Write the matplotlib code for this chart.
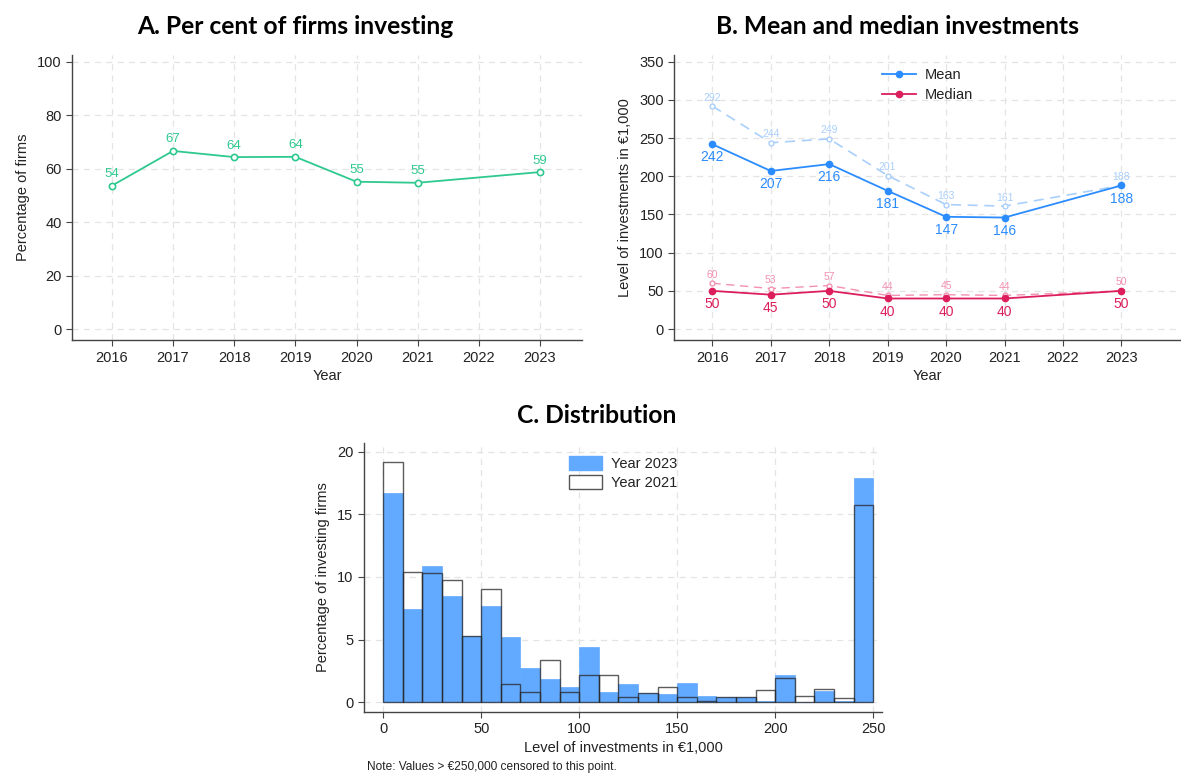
import matplotlib
matplotlib.use("Agg")
import matplotlib.pyplot as plt
from matplotlib.patches import Patch
from matplotlib.lines import Line2D

# ---------------- data ----------------
years_a = [2016, 2017, 2018, 2019, 2020, 2021, 2023]
pct_investing = [53.7, 66.7, 64.4, 64.5, 55.2, 54.8, 58.8]
pct_labels = ["54", "67", "64", "64", "55", "55", "59"]

years_b = [2016, 2017, 2018, 2019, 2020, 2021, 2023]
mean_solid = [242, 207, 216, 181, 147, 146, 188]
mean_dashed = [292, 244, 249, 201, 163, 161, 188]
median_solid = [50, 45, 50, 40, 40, 40, 50]
median_dashed = [60, 53, 57, 44, 45, 44, 50]

year_ticks = [2016, 2017, 2018, 2019, 2020, 2021, 2022, 2023]

bin_starts = [0, 10, 20, 30, 40, 50, 60, 70, 80, 90, 100, 110, 120,
              130, 140, 150, 160, 170, 180, 190, 200, 210, 220, 230, 240]
hist_2023 = [16.73, 7.45, 10.85, 8.48, 5.29, 7.71, 5.24, 2.71, 1.86, 1.20,
             4.39, 0.85, 1.46, 0.72, 0.64, 1.54, 0.48, 0.43, 0.43, 0.10,
             2.18, 0.00, 0.93, 0.10, 17.87]
hist_2021 = [19.15, 10.40, 10.30, 9.76, 5.29, 9.07, 1.44, 0.80, 3.35, 0.80,
             2.15, 2.18, 0.40, 0.72, 1.22, 0.45, 0.13, 0.43, 0.43, 0.98,
             1.97, 0.53, 1.09, 0.32, 15.74]
bin_width = 10

# ---------------- style ----------------
plt.rcParams['font.family'] = ['Liberation Sans', 'DejaVu Sans']
TITLE_FONT = ['Lato', 'DejaVu Sans']
GREEN = '#2ec98f'
BLUE = '#2b8cff'
LBLUE = '#a9cffb'
RED = '#dc1f5c'
LRED = '#f291b0'
HBLUE = '#62aaff'
TXT = '#222222'
GRID = '#e4e4e4'
TICK_FS = 10.5
LAB_FS = 10.5

fig = plt.figure(figsize=(11.81, 7.73), dpi=100)


def style_axes(ax):
    for s in ['top', 'right']:
        ax.spines[s].set_visible(False)
    for s in ['left', 'bottom']:
        ax.spines[s].set_color('#444444')
        ax.spines[s].set_linewidth(1.0)
    ax.tick_params(axis='both', colors='#444444', labelcolor=TXT,
                   labelsize=TICK_FS, length=4, width=0.8, direction='out')
    ax.grid(True, color=GRID, linestyle=(0, (5, 4)), linewidth=0.9)
    ax.set_axisbelow(True)


# ---------------- Panel A ----------------
axA = fig.add_axes([0.061, 0.560, 0.432, 0.369])
style_axes(axA)
axA.plot(years_a, pct_investing, color=GREEN, lw=1.3, marker='o', ms=4.5,
         mfc='white', mec=GREEN, mew=1.2, zorder=3)
for x, y, t in zip(years_a, pct_investing, pct_labels):
    axA.annotate(t, (x, y), xytext=(0, 4), textcoords='offset points',
                 ha='center', va='bottom', color=GREEN, fontsize=9.5)
axA.set_xlim(2015.35, 2023.69)
axA.set_ylim(-4, 102.6)
axA.set_xticks(year_ticks)
axA.set_yticks([0, 20, 40, 60, 80, 100])
axA.set_xlabel('Year', fontsize=LAB_FS, color=TXT, labelpad=3)
axA.set_ylabel('Percentage of firms', fontsize=LAB_FS, color=TXT, labelpad=5)
fig.text(0.25, 0.966, 'A. Per cent of firms investing', ha='center', va='center',
         fontsize=17.7, fontweight='bold', family=TITLE_FONT, color='black')

# ---------------- Panel B ----------------
axB = fig.add_axes([0.571, 0.560, 0.428, 0.369])
style_axes(axB)
axB.plot(years_b, mean_dashed, color=LBLUE, lw=1.2, ls=(0, (6, 4)), marker='o',
         ms=3.5, mfc='white', mec=LBLUE, mew=1.0, zorder=2)
axB.plot(years_b, median_dashed, color=LRED, lw=1.0, ls=(0, (6, 4)), marker='o',
         ms=3.5, mfc='white', mec=LRED, mew=1.0, zorder=2)
axB.plot(years_b, mean_solid, color=BLUE, lw=1.3, marker='o', ms=4.5,
         mfc=BLUE, mec=BLUE, zorder=3)
axB.plot(years_b, median_solid, color=RED, lw=1.3, marker='o', ms=4.5,
         mfc=RED, mec=RED, zorder=3)
for x, y in zip(years_b, mean_dashed):
    axB.annotate(str(y), (x, y), xytext=(0, 2.5), textcoords='offset points',
                 ha='center', va='bottom', color=LBLUE, fontsize=7.5)
for x, y in zip(years_b, median_dashed):
    axB.annotate(str(y), (x, y), xytext=(0, 2.5), textcoords='offset points',
                 ha='center', va='bottom', color=LRED, fontsize=7.5)
for x, y in zip(years_b, mean_solid):
    axB.annotate(str(y), (x, y), xytext=(0, -4.5), textcoords='offset points',
                 ha='center', va='top', color=BLUE, fontsize=10)
for x, y in zip(years_b, median_solid):
    axB.annotate(str(y), (x, y), xytext=(0, -4.5), textcoords='offset points',
                 ha='center', va='top', color=RED, fontsize=10)
axB.set_xlim(2015.35, 2024.0)
axB.set_ylim(-14.5, 359)
axB.set_xticks(year_ticks)
axB.set_yticks([0, 50, 100, 150, 200, 250, 300, 350])
axB.set_xlabel('Year', fontsize=LAB_FS, color=TXT, labelpad=3)
axB.set_ylabel('Level of investments in €1,000', fontsize=LAB_FS, color=TXT, labelpad=5)
handlesB = [Line2D([0], [0], color=BLUE, lw=1.3, marker='o', ms=4.5),
            Line2D([0], [0], color=RED, lw=1.3, marker='o', ms=4.5)]
axB.legend(handlesB, ['Mean', 'Median'], loc='upper left',
           bbox_to_anchor=(0.385, 1.0), frameon=False, fontsize=10.5,
           handlelength=2.3, handletextpad=0.6, labelspacing=0.4,
           labelcolor=TXT)
fig.text(0.760, 0.966, 'B. Mean and median investments', ha='center', va='center',
         fontsize=17.7, fontweight='bold', family=TITLE_FONT, color='black')

# ---------------- Panel C ----------------
axC = fig.add_axes([0.308, 0.079, 0.439, 0.348])
style_axes(axC)
axC.bar(bin_starts, hist_2023, width=bin_width, align='edge', color=HBLUE,
        edgecolor=HBLUE, linewidth=0.5, zorder=2)
axC.bar(bin_starts, hist_2021, width=bin_width, align='edge', fill=False,
        edgecolor=(0.15, 0.15, 0.15, 0.75), linewidth=1.0, zorder=3)
axC.set_xlim(-9.9, 254.6)
axC.set_ylim(-0.77, 20.7)
axC.set_xticks([0, 50, 100, 150, 200, 250])
axC.set_yticks([0, 5, 10, 15, 20])
axC.set_xlabel('Level of investments in €1,000', fontsize=LAB_FS, color=TXT, labelpad=3)
axC.set_ylabel('Percentage of investing firms', fontsize=LAB_FS, color=TXT, labelpad=5)
handlesC = [Patch(facecolor=HBLUE, edgecolor=HBLUE),
            Patch(facecolor='white', edgecolor='#555555', linewidth=1.0)]
axC.legend(handlesC, ['Year 2023', 'Year 2021'], loc='upper left',
           bbox_to_anchor=(0.37, 1.0), frameon=False, fontsize=10.5,
           handlelength=2.3, handleheight=1.05, handletextpad=0.6,
           labelspacing=0.3, labelcolor=TXT)
fig.text(0.505, 0.463, 'C. Distribution', ha='center', va='center',
         fontsize=17.7, fontweight='bold', family=TITLE_FONT, color='black')
fig.text(0.311, 0.0, 'Note: Values > €250,000 censored to this point.',
         ha='left', va='bottom', fontsize=8.6, color=TXT)

fig.savefig('out.png', dpi=100, facecolor='white')
